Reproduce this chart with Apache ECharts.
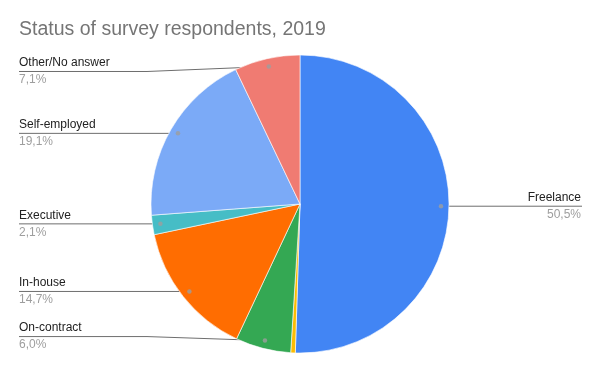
<!DOCTYPE html>
<html>
<head>
<meta charset="utf-8">
<script src="https://cdn.jsdelivr.net/npm/echarts@6/dist/echarts.min.js"></script>
<style>html,body{margin:0;padding:0;background:#fff}#c{width:600px;height:371px}</style>
</head>
<body>
<div id="c"></div>
<script>
var titleText = 'Status of survey respondents, 2019';
var categories = ['Freelance', 'Student', 'On-contract', 'In-house', 'Executive', 'Self-employed', 'Other/No answer'];
var values = [50.5, 0.5, 6.0, 14.7, 2.1, 19.1, 7.1];
var showLabel = [true, false, true, true, true, true, true];

var colors = ['#4285F4', '#FBBC04', '#34A853', '#FF6D01', '#46BDC6', '#7BAAF7', '#F07B72'];
var CX = 300, CY = 204, R = 149, RDOT = 141;
var labelDy = {'Other/No answer': 5, 'On-contract': -4};

var total = values.reduce(function (a, b) { return a + b; }, 0);
var cum = 0;
var mids = values.map(function (v) { var m = cum + v / 2; cum += v; return m / total * 100; });
var dotData = [];
mids.forEach(function (m, i) { if (showLabel[i]) dotData.push([RDOT, m]); });

var chart = echarts.init(document.getElementById('c'), null, {renderer: 'canvas'});
chart.setOption({
  animation: false,
  title: {
    text: titleText, left: 14, top: 15,
    textStyle: {fontFamily: 'Liberation Sans, Arial, sans-serif', fontSize: 19.5, fontWeight: 'normal', color: '#757575'}
  },
  polar: {center: [CX, CY], radius: R},
  angleAxis: {type: 'value', min: 0, max: 100, startAngle: 90, clockwise: true, show: false},
  radiusAxis: {type: 'value', min: 0, max: R, show: false},
  series: [{
    type: 'pie',
    center: [CX, CY],
    radius: [0, R],
    startAngle: 90,
    clockwise: true,
    avoidLabelOverlap: false,
    itemStyle: {borderColor: '#ffffff', borderWidth: 0.6},
    data: categories.map(function (c, i) {
      return {name: c, value: values[i], itemStyle: {color: colors[i]},
        label: {show: showLabel[i]}, labelLine: {show: showLabel[i]}};
    }),
    label: {
      position: 'outside',
      fontFamily: 'Liberation Sans, Arial, sans-serif',
      formatter: function (p) { return '{n|' + p.name + '}\n{v|' + p.value.toFixed(1).replace('.', ',') + '%}'; },
      rich: {
        n: {fontSize: 12, color: '#222222', lineHeight: 17, fontFamily: 'Liberation Sans, Arial, sans-serif'},
        v: {fontSize: 12, color: '#9e9e9e', lineHeight: 17, fontFamily: 'Liberation Sans, Arial, sans-serif'}
      }
    },
    labelLine: {show: true, lineStyle: {color: '#6e6e6e', width: 1}},
    labelLayout: function (p) {
      var i = p.dataIndex;
      var pts = p.labelLinePoints;
      var ex = pts ? pts[0][0] : CX, ey = pts ? pts[0][1] : CY;
      var dx = (ex - CX) * RDOT / R + CX, dy = (ey - CY) * RDOT / R + CY;
      var name = categories[i];
      var ly = dy + (labelDy[name] || 0);
      if (dx > CX) {
        return {x: 581, y: ly, align: 'right', verticalAlign: 'middle',
          labelLinePoints: [[dx, dy], [dx + 1, ly], [582, ly]]};
      }
      var bend = Math.min(147, dx - 1);
      return {x: 19, y: ly, align: 'left', verticalAlign: 'middle',
        labelLinePoints: [[dx, dy], [bend, ly], [19, ly]]};
    },
    z: 1
  }, {
    type: 'scatter',
    coordinateSystem: 'polar',
    symbol: 'circle',
    symbolSize: 4.5,
    itemStyle: {color: '#9e9e9e'},
    data: dotData,
    z: 5
  }]
});
</script>
</body>
</html>
